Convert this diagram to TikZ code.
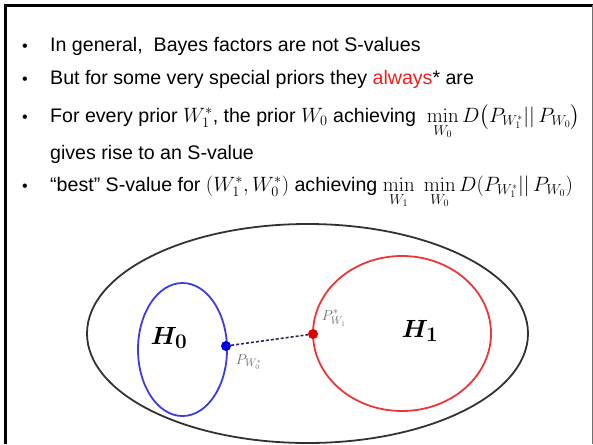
\documentclass[tikz,border=0pt]{standalone}
\usepackage{amsmath}
\usepackage{bm}
\usepackage[no-math]{fontspec}
\setmainfont{Liberation Sans}
\definecolor{hzero}{RGB}{60,60,225}
\definecolor{hone}{RGB}{235,55,55}
\definecolor{outer}{RGB}{50,50,50}
\definecolor{lbl}{RGB}{110,110,110}
\definecolor{alw}{RGB}{240,30,30}
\newcommand{\mymin}[1]{\mathop{\vphantom{x}\smash{\mathrm{min}}}\limits_{#1}}
\begin{document}
\begin{tikzpicture}[x=1pt,y=-1pt,
  txt/.style={anchor=base west,inner sep=0pt,font=\fontsize{19.6}{24}\selectfont},
  bul/.style={anchor=base,inner sep=0pt,font=\fontsize{16}{20}\selectfont},
  dot/.style={circle,inner sep=0pt,minimum size=10pt},
  plbl/.style={inner sep=0pt,text=lbl,font=\fontsize{15}{17}\selectfont},
  hlbl/.style={inner sep=0pt,font=\fontsize{29}{34}\selectfont}]
\useasboundingbox (0,0) rectangle (593,444);
% frame
\draw[line width=3pt] (5.5,444) -- (5.5,5.5) -- (593,5.5);
\draw[lbl,line width=1pt] (592,5.5) -- (592,444);
% bullets
\foreach \n/\y in {b1/52,b2/84,b3/122,b5/191}
  \node[bul] (\n) at (25,\y) {•};
\node[txt] (t1) at (50,52) {In general,\ \ Bayes factors are not S-values};
\node[txt] (t2) at (50,84) {But for some very special priors they \textcolor{alw}{always}* are};
\node[txt] (t3) at (50,122) {For every prior $W_1^*$, the prior $W_0$ achieving\ \ $\mymin{W_0} D\big(P_{W_1^*}||\,P_{W_0}\big)$};
\node[txt] (t4) at (50,159) {gives rise to an S-value};
\node[txt] (t5) at (50,191) {“best” S-value for $(W_1^*,W_0^*)$ achieving $\mymin{W_1}\;\mymin{W_0} D(P_{W_1^*}||\,P_{W_0})$};
% sets
\draw[outer,line width=1.8pt] (307.5,333.5) ellipse [x radius=220.5,y radius=109.5];
\draw[hzero,line width=1.8pt] (182.5,349.5) ellipse [x radius=44.5,y radius=66.5];
\draw[hone,line width=1.8pt] (402,333.5) ellipse [x radius=89,y radius=77.5];
\node[dot,fill=blue!90!black] (d0) at (226,346) {};
\node[dot,fill=red!90!black] (d1) at (313,334) {};
\draw[outer!80!blue,line width=1.6pt,dash pattern=on 3pt off 2pt] (d0) -- (d1);
\node[plbl] (p1) at (334,318) {$P^{*}_{W_1}$};
\node[plbl] (p0) at (249,362) {$P_{W_0^*}$};
\node[hlbl] (h0) at (169,338) {$\bm{H}_{\mathbf{0}}$};
\node[hlbl] (h1) at (420,331) {$\bm{H}_{\mathbf{1}}$};
\end{tikzpicture}
\end{document}
